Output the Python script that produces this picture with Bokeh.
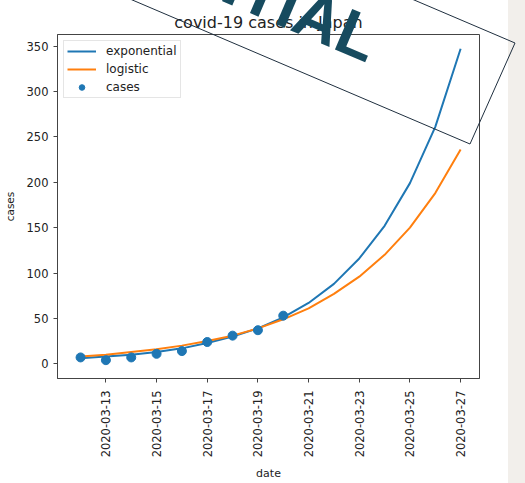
import math
import pandas as pd
from bokeh.plotting import figure
from bokeh.models import (FixedTicker, DatetimeTickFormatter, Range1d, GridBox, Div,
                          ColumnDataSource)
from bokeh.embed import file_html
from bokeh.resources import INLINE

# ---------------- data ----------------
title_text = "covid-19 cases in Japan"
fit_dates = ["2020-03-12", "2020-03-13", "2020-03-14", "2020-03-15", "2020-03-16",
             "2020-03-17", "2020-03-18", "2020-03-19", "2020-03-20", "2020-03-21",
             "2020-03-22", "2020-03-23", "2020-03-24", "2020-03-25", "2020-03-26",
             "2020-03-27"]
exponential = [6, 8, 10, 13, 17, 23, 30, 39, 51, 67, 88, 116, 152, 199, 261, 347]
logistic = [8, 10, 13, 16, 20, 25, 31, 39, 49, 61, 77, 96, 120, 150, 188, 236]
case_dates = ["2020-03-12", "2020-03-13", "2020-03-14", "2020-03-15", "2020-03-16",
              "2020-03-17", "2020-03-18", "2020-03-19", "2020-03-20"]
cases = [7, 4, 7, 11, 14, 24, 31, 37, 53]
x_tick_labels = ["2020-03-13", "2020-03-15", "2020-03-17", "2020-03-19",
                 "2020-03-21", "2020-03-23", "2020-03-25", "2020-03-27"]
y_ticks = [0, 50, 100, 150, 200, 250, 300, 350]
stamp_text = "CONFIDENTIAL"

# ---------------- main chart ----------------
FONT = "DejaVu Sans"
BLUE = "#1f77b4"
ORANGE = "#ff7f0e"
W, H = 525, 483

fit_src = ColumnDataSource(dict(date=pd.to_datetime(fit_dates), exponential=exponential,
                                logistic=logistic))
case_src = ColumnDataSource(dict(date=pd.to_datetime(case_dates), cases=cases))

day_ms = 86400000.0
x_start = pd.Timestamp(fit_dates[0]).value / 1e6 - 0.91 * day_ms
x_end = pd.Timestamp(fit_dates[-1]).value / 1e6 + 0.745 * day_ms

p = figure(width=W, height=H, x_axis_type="datetime",
           x_range=Range1d(x_start, x_end), y_range=Range1d(-16.2, 362.7),
           output_backend="svg", toolbar_location=None, title=title_text,
           min_border_left=54, min_border_right=46, min_border_top=34,
           min_border_bottom=105)

p.background_fill_color = "white"
p.border_fill_color = "white"
p.outline_line_color = "#444444"
p.outline_line_width = 1
p.xgrid.visible = False
p.ygrid.visible = False

p.title.align = "center"
p.title.text_font = FONT
p.title.text_font_size = "16px"
p.title.text_font_style = "normal"
p.title.text_color = "#222222"
p.title.standoff = 6
p.title.offset = -6

p.line("date", "exponential", source=fit_src, color=BLUE, line_width=2,
       legend_label="exponential")
p.line("date", "logistic", source=fit_src, color=ORANGE, line_width=2,
       legend_label="logistic")
p.scatter("date", "cases", source=case_src, color=BLUE, size=9,
          legend_label="cases")

for ax in (p.xaxis[0], p.yaxis[0]):
    ax.axis_line_color = "#444444"
    ax.major_tick_line_color = "#444444"
    ax.major_tick_out = 4
    ax.major_tick_in = 0
    ax.minor_tick_out = 0
    ax.minor_tick_in = 0
    ax.major_label_text_font = FONT
    ax.major_label_text_font_size = "11.5px"
    ax.major_label_text_color = "#222222"
    ax.axis_label_text_font = FONT
    ax.axis_label_text_font_style = "normal"
    ax.axis_label_text_color = "#222222"

p.xaxis.ticker = FixedTicker(ticks=[pd.Timestamp(s).value / 1e6 for s in x_tick_labels])
p.xaxis.formatter = DatetimeTickFormatter(days="%Y-%m-%d", months="%Y-%m-%d",
                                          hours="%Y-%m-%d", years="%Y-%m-%d")
p.xaxis.major_label_orientation = math.pi / 2
p.xaxis.major_label_standoff = 8
p.xaxis.axis_label = "date"
p.xaxis.axis_label_text_font_size = "11px"
p.xaxis.axis_label_standoff = 7

p.yaxis.ticker = FixedTicker(ticks=y_ticks)
p.yaxis.major_label_standoff = 5
p.yaxis.axis_label = "cases"
p.yaxis.axis_label_text_font_size = "10.5px"
p.yaxis.axis_label_standoff = 8

lg = p.legend[0]
lg.location = "top_left"
lg.margin = 6
lg.padding = 3
lg.spacing = 4
lg.glyph_width = 29
lg.glyph_height = 14
lg.label_standoff = 10
lg.label_text_font = FONT
lg.label_text_font_size = "12px"
lg.label_text_color = "#222222"
lg.label_height = 14
lg.border_line_color = "#cccccc"
lg.border_line_width = 1
lg.background_fill_alpha = 0.85

# ---------------- overlay: page strip + rotated stamp ----------------
theta_deg = 23.1
th = math.radians(theta_deg)
dx, dy = math.cos(th), math.sin(th)
L = 700
br = (470, 144)
tr = (515, 43)
pts = [(br[0] - L * dx, br[1] - L * dy), br, tr, (tr[0] - L * dx, tr[1] - L * dy)]
pts_str = " ".join(f"{x:.1f},{y:.1f}" for x, y in pts)
tx, ty = 367, 63

overlay_svg = (
    f'<svg xmlns="http://www.w3.org/2000/svg" width="{W}" height="{H}" '
    f'style="position:absolute;left:0;top:0;pointer-events:none">'
    f'<rect x="508" y="0" width="{W - 508}" height="{H}" fill="#f2efeb"/>'
    f'<polygon points="{pts_str}" fill="none" stroke="#1f2f3f" stroke-width="1"/>'
    f'<text x="{tx}" y="{ty}" transform="rotate({theta_deg} {tx} {ty})" '
    f'text-anchor="end" font-family="DejaVu Sans" font-weight="bold" '
    f'font-size="64" fill="#174b5f">{stamp_text}</text>'
    f'</svg>'
)
overlay = Div(text=overlay_svg, width=W, height=H, margin=0,
              styles={"pointer-events": "none"})

layout = GridBox(children=[(p, 0, 0), (overlay, 0, 0)])

open("out.html", "w").write(file_html(layout, INLINE))
